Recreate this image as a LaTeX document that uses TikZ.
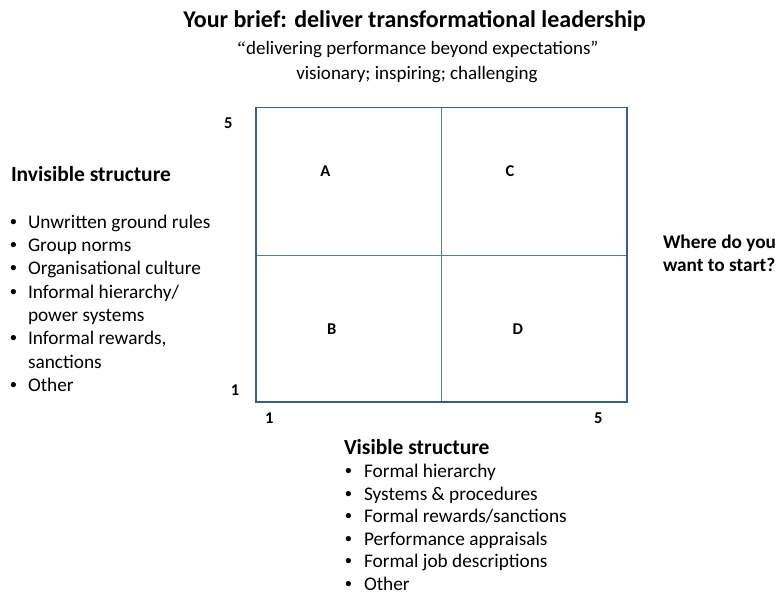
\documentclass[tikz,border=0pt]{standalone}
\usepackage{fontspec}
\setmainfont{Carlito}
\newfontfamily\bulfont{Liberation Sans}
\newfontfamily\quotefont{Liberation Serif}
\definecolor{outerblue}{HTML}{385D8A}
\definecolor{innerblue}{HTML}{4A7EBB}
\newcommand{\bul}[1]{\makebox[#1][l]{\bulfont •}}
\begin{document}
\begin{tikzpicture}[x=1pt,y=-1pt,
  every node/.style={inner sep=0pt, outer sep=0pt},
  titletxt/.style={anchor=base, font=\bfseries\fontsize{24}{28}\selectfont},
  subtxt/.style={anchor=base, font=\fontsize{19}{23}\selectfont},
  headtxt/.style={anchor=base west, font=\bfseries\fontsize{21.5}{26}\selectfont},
  itemtxt/.style={anchor=base west, font=\fontsize{19.3}{23}\selectfont},
  asktxt/.style={anchor=base west, font=\bfseries\fontsize{19.3}{23}\selectfont},
  cell/.style={anchor=center, font=\bfseries\fontsize{16.5}{19}\selectfont},
  outerline/.style={draw=outerblue, line width=1.6pt},
  innerline/.style={draw=innerblue, line width=0.8pt}]
\useasboundingbox (0,0) rectangle (777,598);

% titles
\node[titletxt] (title) at (414.5,27) {Your brief: deliver transformational leadership};
\node[subtxt] (sub1) at (417,54) {{\quotefont\itshape “}delivering performance beyond expectations”};
\node[subtxt] (sub2) at (417,79.5) {visionary; inspiring; challenging};

% grid
\coordinate (tl) at (256,107.5);
\coordinate (br) at (627,402);
\coordinate (mt) at (441.3,107.5);
\coordinate (mb) at (441.3,402);
\coordinate (ml) at (256,255.3);
\coordinate (mr) at (627,255.3);
\draw[innerline] (mt) -- (mb);
\draw[innerline] (ml) -- (mr);
\draw[outerline] (tl) rectangle (br);

\node[cell] (A) at (325.3,170.7) {A};
\node[cell] (C) at (510,170.7) {C};
\node[cell] (B) at (331.7,328.7) {B};
\node[cell] (D) at (517.7,328.7) {D};

\node[cell] (y5) at (228.3,123.3) {5};
\node[cell] (y1) at (235,390) {1};
\node[cell] (x1) at (269.3,418.3) {1};
\node[cell] (x5) at (598.3,418.3) {5};

% invisible structure
\node[headtxt] (ihead) at (11,181.7) {Invisible structure};
\node[itemtxt] (i1) at (10,228.3) {\bul{18pt}Unwritten ground rules};
\node[itemtxt] (i2) at (10,251.6) {\bul{18pt}Group norms};
\node[itemtxt] (i3) at (10,274.9) {\bul{18pt}Organisational culture};
\node[itemtxt] (i4) at (10,298.2) {\bul{18pt}Informal hierarchy/};
\node[itemtxt] (i4b) at (28,321.5) {power systems};
\node[itemtxt] (i5) at (10,344.8) {\bul{18pt}Informal rewards,};
\node[itemtxt] (i5b) at (28,368.1) {sanctions};
\node[itemtxt] (i6) at (10,391.4) {\bul{18pt}Other};

% visible structure
\node[headtxt] (vhead) at (344,454) {Visible structure};
\node[itemtxt] (v1) at (345,477.5) {\bul{19pt}Formal hierarchy};
\node[itemtxt] (v2) at (345,500) {\bul{19pt}Systems \& procedures};
\node[itemtxt] (v3) at (345,522.5) {\bul{19pt}Formal rewards/sanctions};
\node[itemtxt] (v4) at (345,545) {\bul{19pt}Performance appraisals};
\node[itemtxt] (v5) at (345,567.5) {\bul{19pt}Formal job descriptions};
\node[itemtxt] (v6) at (345,590) {\bul{19pt}Other};

% question
\node[asktxt] (q1) at (663,248) {Where do you};
\node[asktxt] (q2) at (663,271) {want to start?};
\end{tikzpicture}
\end{document}
